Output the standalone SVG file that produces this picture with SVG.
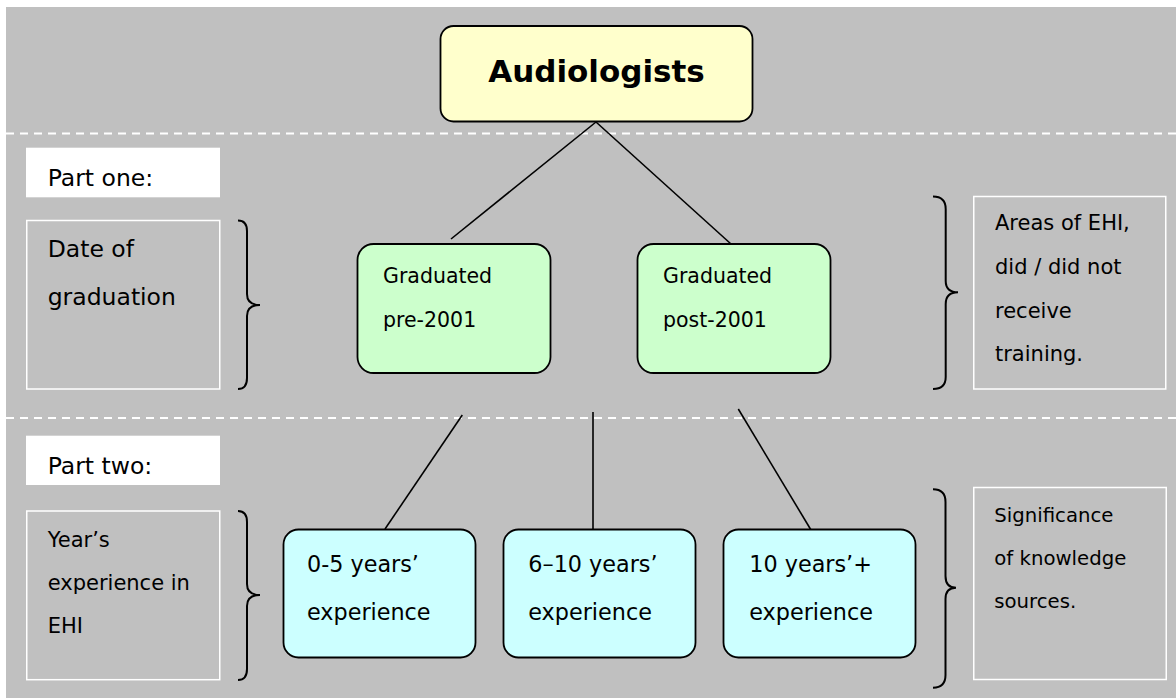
<svg xmlns="http://www.w3.org/2000/svg" width="1176" height="698" viewBox="0 0 1176 698">
<style>
text{font-family:"DejaVu Sans","Liberation Sans",sans-serif;fill:#000}
.title{font-weight:bold;font-size:31px}
.grad{font-size:20.5px}
.exp{font-size:22.3px}
.lbl{font-size:23.5px}
.side{font-size:21px}
.node{stroke:#000;stroke-width:1.8}
.wbox{fill:none;stroke:#fff;stroke-width:1.5}
.brace{fill:none;stroke:#000;stroke-width:2}
.conn line{stroke:#000;stroke-width:1.6}
.dash{stroke:#fff;stroke-width:2;stroke-dasharray:8 6}
</style>
<rect x="0" y="0" width="1176" height="698" fill="#fff"/>
<rect x="6" y="7" width="1170" height="691" fill="#c0c0c0"/>
<line class="dash" x1="6" y1="133.5" x2="1176" y2="133.5"/>
<line class="dash" x1="6" y1="418" x2="1176" y2="418"/>

<g id="connectors" class="conn">
<line x1="596" y1="122" x2="451" y2="239"/>
<line x1="596" y1="122" x2="731" y2="244"/>
<line x1="462.3" y1="415" x2="385" y2="529"/>
<line x1="593" y1="412" x2="593" y2="529"/>
<line x1="738.3" y1="409" x2="811" y2="530"/>
</g>

<g id="audiologists">
<rect class="node" x="440.5" y="26" width="312" height="95.5" rx="13" fill="#ffffcc"/>
<text class="title" x="596.5" y="82" text-anchor="middle">Audiologists</text>
</g>

<g id="pre2001">
<rect class="node" x="357.5" y="244" width="193" height="129" rx="16" fill="#ccffcc"/>
<text class="grad" x="383" y="282.7">Graduated</text>
<text class="grad" x="383" y="327.3">pre-2001</text>
</g>
<g id="post2001">
<rect class="node" x="637.5" y="244" width="193" height="129" rx="16" fill="#ccffcc"/>
<text class="grad" x="663" y="282.7">Graduated</text>
<text class="grad" x="663" y="327.3">post-2001</text>
</g>

<g id="exp0-5">
<rect class="node" x="283.5" y="529.5" width="192" height="128" rx="15" fill="#ccffff"/>
<text class="exp" x="307" y="571.5">0-5 years’</text>
<text class="exp" x="307" y="619.5">experience</text>
</g>
<g id="exp6-10">
<rect class="node" x="503.5" y="529.5" width="192" height="128" rx="15" fill="#ccffff"/>
<text class="exp" x="528.3" y="571.5">6–10 years’</text>
<text class="exp" x="528.3" y="619.5">experience</text>
</g>
<g id="exp10plus">
<rect class="node" x="723.5" y="529.5" width="192" height="128" rx="15" fill="#ccffff"/>
<text class="exp" x="749.3" y="571.5">10 years’+</text>
<text class="exp" x="749.3" y="619.5">experience</text>
</g>

<g id="part-one">
<rect x="26" y="147.7" width="194" height="49.6" fill="#fff"/>
<text class="lbl" x="47.7" y="186.3">Part one:</text>
</g>
<g id="date-of-graduation">
<rect class="wbox" x="26.75" y="220.5" width="193" height="168.5"/>
<text class="lbl" x="47.7" y="257">Date of</text>
<text class="lbl" x="47.7" y="305">graduation</text>
<path class="brace" d="M238,220.5 Q247,220.5 247,231 L247,294 Q247,305 260,305 Q247,305 247,316 L247,378 Q247,389 238,389"/>
</g>
<g id="areas-of-ehi">
<rect class="wbox" x="973.75" y="196.5" width="192" height="192.5"/>
<text class="side" x="995" y="230">Areas of EHI,</text>
<text class="side" x="995" y="274.3">did / did not</text>
<text class="side" x="995" y="317.7">receive</text>
<text class="side" x="995" y="361">training.</text>
<path class="brace" d="M933,196.5 Q945.7,196.5 945.7,209 L945.7,281 Q945.7,292.3 958,292.3 Q945.7,292.3 945.7,304 L945.7,377 Q945.7,389 933,389"/>
</g>

<g id="part-two">
<rect x="26" y="435.7" width="194" height="49.3" fill="#fff"/>
<text class="lbl" x="47.7" y="474.2">Part two:</text>
</g>
<g id="years-experience">
<rect class="wbox" x="26.75" y="511" width="193" height="168.7"/>
<text class="side" x="47.7" y="546.7">Year’s</text>
<text class="side" x="47.7" y="589.5">experience in</text>
<text class="side" x="47.7" y="632.5">EHI</text>
<path class="brace" d="M238,511 Q247,511 247,522 L247,584 Q247,595 260,595 Q247,595 247,606 L247,669 Q247,680 238,680"/>
</g>
<g id="significance">
<rect class="wbox" x="973.75" y="487.5" width="192.5" height="192"/>
<text class="side" x="994.3" y="521.7" style="font-size:19.7px">Significance</text>
<text class="side" x="994.3" y="565" style="font-size:19.7px">of knowledge</text>
<text class="side" x="994.3" y="608.3" style="font-size:19.7px">sources.</text>
<path class="brace" d="M933,489.3 Q945.5,489.3 945.5,502 L945.5,576 Q945.5,587.7 956,587.7 Q945.5,587.7 945.5,599 L945.5,675 Q945.5,687.7 933,687.7"/>
</g>
</svg>
